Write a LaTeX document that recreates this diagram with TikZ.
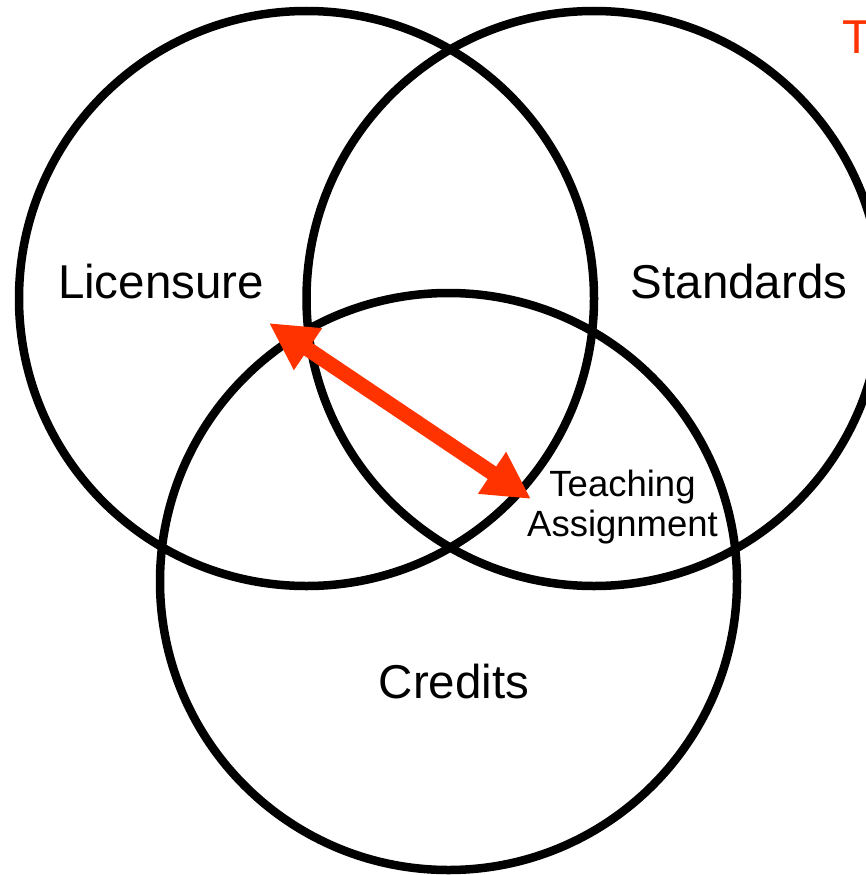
\documentclass[tikz,border=0pt]{standalone}
\usepackage{fontspec}
\setmainfont{Liberation Sans}
\usetikzlibrary{arrows.meta}
\definecolor{arrred}{RGB}{255,51,0}
\tikzset{
  setcircle/.style={circle, draw=black, line width=8.5pt, inner sep=0pt, outer sep=0pt, minimum size=#1},
  biglabel/.style={inner sep=0pt, anchor=base, font=\fontsize{47.5}{56}\selectfont},
  smalllabel/.style={inner sep=0pt, anchor=base, font=\fontsize{36.5}{40}\selectfont},
  redarrow/.style={draw=arrred, line width=15pt, {Triangle[length=47pt,width=47pt]}-{Triangle[length=47pt,width=47pt]}, arrows={[fill=arrred]}}
}
\begin{document}
\begin{tikzpicture}[x=1pt,y=-1pt]
\useasboundingbox (0,0) rectangle (866,875);
\fill[white] (0,0) rectangle (866,875);
\node[setcircle=575pt] (lic) at (306.5,298.5) {};
\node[setcircle=575pt] (std) at (594,298.5) {};
\node[setcircle=577pt] (cred) at (448.5,581.5) {};
\node[biglabel] (liclabel) at (161,298) {Licensure};
\node[biglabel] (stdlabel) at (739,298) {Standards};
\node[biglabel] (credlabel) at (454,698) {Credits};
\node[smalllabel] (teach1) at (622.5,496) {Teaching};
\node[smalllabel] (teach2) at (622.5,536) {Assignment};
\node[inner sep=0pt, anchor=base west, text=arrred, font=\fontsize{47.5}{56}\selectfont] (redt) at (842,53) {T};
\coordinate (a1) at (269,323);
\coordinate (a2) at (531,499);
\draw[redarrow] (a1) -- (a2);
\end{tikzpicture}
\end{document}
